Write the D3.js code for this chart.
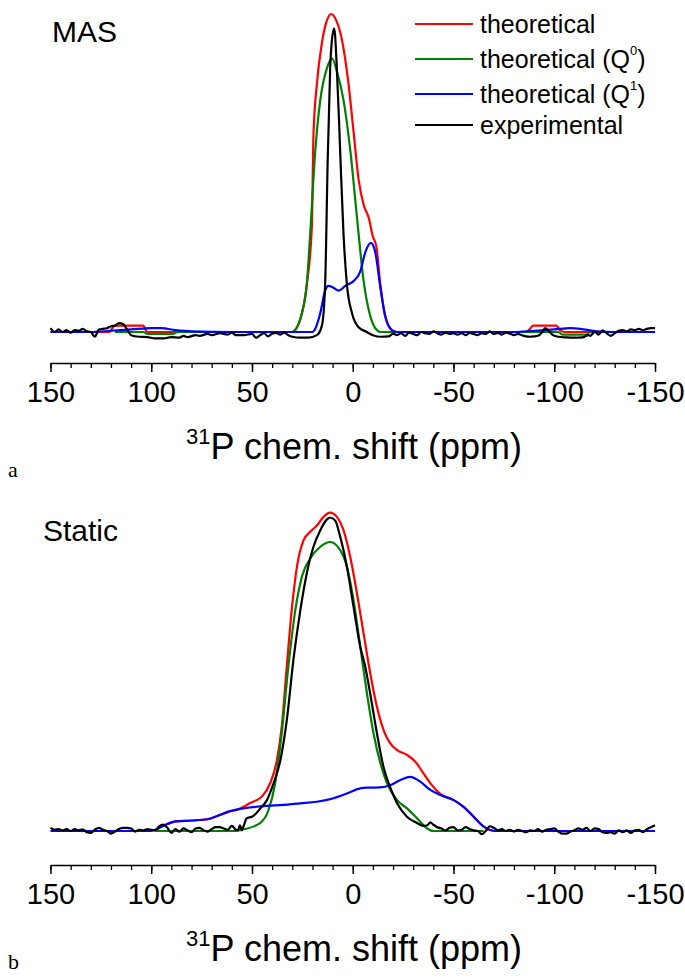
<!DOCTYPE html>
<html>
<head>
<meta charset="utf-8">
<script src="https://cdn.jsdelivr.net/npm/d3@7"></script>
<style>
    body { margin: 0; background: #fff; }
    svg { display: block; font-family: "Liberation Sans", Arial, sans-serif; }
</style>
</head>
<body>
<div id="chart"></div>
<script>
// x axis ticks (ppm), shared by both panels
const majorTicks = [150, 100, 50, 0, -50, -100, -150];
const minorTicks = d3.range(150, -151, -10);

const seriesNames = ['theoretical', 'theoretical (Q0)', 'theoretical (Q1)', 'experimental'];
const seriesColors = ['#ff0000', '#008000', '#0000ff', '#000000'];

// ---- MAS panel: [ppm, intensity] ----
const masTheory = [
    [150, 0], [121, 0], [118, 0.02], [104, 0.02], [102, 0], [30, 0], [25.2, 0.06], [22.8, 0.15],
    [20.3, 0.33], [19.5, 0.62], [17.8, 0.78], [15.3, 0.91], [12.8, 0.98], [10.7, 1.0], [8.2, 0.98],
    [5.4, 0.92], [2.1, 0.78], [-0.4, 0.63], [-2.9, 0.48], [-5.4, 0.4], [-7.9, 0.36], [-10, 0.3],
    [-11.7, 0.27], [-13.7, 0.15], [-16.1, 0.05], [-19.5, 0.006], [-22, 0], [-86, 0], [-88, 0.01],
    [-89.5, 0.02], [-101, 0.02], [-103, 0.005], [-105, 0], [-150, 0]
];
const masQ0 = [
    [118, 0], [104, 0], [102, -0.006], [89, -0.006], [87, 0], [30, 0], [29.4, 0.002], [25.2, 0.06],
    [22.8, 0.15], [21.1, 0.31], [18.6, 0.57], [16.1, 0.73], [12.8, 0.83], [10.3, 0.86], [7.9, 0.82],
    [4.6, 0.73], [1.2, 0.57], [-2.1, 0.36], [-5.4, 0.16], [-8.7, 0.05], [-12, 0.006], [-14, 0],
    [-102, 0], [-104, -0.008], [-116, -0.008], [-118, 0.002], [-120, -0.004]
];
const masQ1 = [
    [150, 0], [130, 0], [120, 0.004], [110, 0.008], [100, 0.012], [95, 0.012], [88, 0.006],
    [80, 0.002], [60, 0], [20, 0], [18.6, 0.01], [16.1, 0.06], [13.7, 0.13], [12, 0.145],
    [9.8, 0.14], [7, 0.13], [3.7, 0.145], [-0.4, 0.16], [-3.7, 0.19], [-6.2, 0.25], [-9, 0.28],
    [-11.2, 0.25], [-13.7, 0.14], [-16.1, 0.05], [-19.5, 0.005], [-22, 0], [-80, 0], [-90, 0.004],
    [-100, 0.008], [-108, 0.012], [-113, 0.01], [-120, 0.003], [-130, 0], [-150, 0]
];
const masExp = [
    [150, 0.012], [148, 0], [146, 0.008], [144, 0], [142, 0.006], [140, -0.002], [138, 0.006],
    [136, 0.004], [134, 0.01], [132, 0.002], [130, 0], [128, -0.015], [126, 0.008], [124, 0.01],
    [122, 0.012], [120, 0.018], [118, 0.02], [116, 0.028], [114, 0.025], [112, 0.008], [110, -0.01],
    [106, -0.015], [102, -0.016], [98, -0.02], [94, -0.02], [90, -0.016], [86, -0.018], [84, -0.012],
    [82, -0.016], [78, -0.01], [76, -0.012], [72, -0.006], [70, -0.01], [66, -0.004], [62, -0.008],
    [60, -0.002], [58, -0.01], [54, -0.01], [50, -0.006], [48, -0.018], [46, -0.01], [44, -0.004],
    [42, -0.014], [40, -0.005], [38, -0.003], [36, -0.008], [34, -0.002], [32, -0.01], [30, -0.015],
    [26, -0.018], [22, -0.018], [17.8, -0.01], [15.3, 0.02], [13.7, 0.15], [12.5, 0.52], [11.2, 0.83],
    [10.3, 0.92], [9.2, 0.955], [7.9, 0.83], [6.6, 0.63], [5.9, 0.51], [4.6, 0.31], [2.9, 0.15],
    [0.4, 0.06], [-2.9, 0.015], [-7, 0], [-10, -0.01], [-14, -0.015], [-18, -0.014], [-20, -0.005],
    [-22, -0.01], [-24, -0.004], [-26, -0.012], [-28, -0.002], [-30, -0.006], [-32, -0.01], [-34, 0],
    [-36, -0.004], [-38, -0.006], [-40, 0.002], [-42, -0.004], [-44, -0.008], [-46, -0.002],
    [-48, -0.006], [-50, -0.004], [-52, -0.008], [-54, -0.004], [-56, -0.01], [-58, -0.003],
    [-60, -0.006], [-62, -0.01], [-64, -0.004], [-66, -0.006], [-68, 0.002], [-70, -0.006],
    [-72, -0.003], [-74, -0.008], [-76, -0.002], [-78, -0.005], [-80, -0.01], [-82, -0.006],
    [-84, -0.01], [-86, -0.014], [-88, -0.015], [-90, -0.014], [-92, -0.012], [-94, 0], [-95.5, 0.012],
    [-97, 0.005], [-99, -0.008], [-102, -0.015], [-106, -0.017], [-110, -0.018], [-114, -0.017],
    [-117, -0.01], [-118, -0.012], [-120, 0.002], [-122, -0.008], [-124, 0.005], [-126, -0.004],
    [-128, -0.012], [-130, -0.004], [-132, 0.004], [-134, 0.006], [-136, 0.002], [-138, 0.008],
    [-140, 0.006], [-142, 0.01], [-144, 0.006], [-146, 0.01], [-148, 0.012], [-150, 0.012]
];

// ---- Static panel ----
const staticTheory = [
    [98, 0], [96, 0.01], [92, 0.022], [88, 0.03], [80, 0.033], [72, 0.037], [66, 0.05], [62, 0.06],
    [57, 0.068], [54.2, 0.076], [50.9, 0.088], [45.1, 0.108], [41, 0.15], [37.7, 0.22], [35.2, 0.33],
    [32.7, 0.52], [30.2, 0.7], [27.7, 0.83], [24.4, 0.914], [21.1, 0.94], [17.8, 0.96], [14.5, 0.987],
    [11.2, 1.0], [7.9, 0.987], [4.6, 0.945], [1.2, 0.86], [-2.1, 0.746], [-5.4, 0.62], [-8.7, 0.495],
    [-12, 0.39], [-15.3, 0.317], [-18.6, 0.275], [-22, 0.254], [-26.9, 0.239], [-31, 0.218],
    [-35.2, 0.18], [-39.3, 0.144], [-43.1, 0.118], [-50.1, 0.097], [-55, 0.076], [-60, 0.045],
    [-65, 0.014], [-68.3, 0.003], [-70, 0]
];
const staticQ0 = [
    [98, 0], [60, 0], [55.9, 0.003], [46, 0.025], [41.8, 0.066], [38.5, 0.15], [35.2, 0.31],
    [31.9, 0.52], [28.6, 0.69], [25.2, 0.8], [21.1, 0.856], [16.1, 0.893], [11.2, 0.908], [6.2, 0.882],
    [2.9, 0.83], [-0.4, 0.725], [-3.7, 0.58], [-7.1, 0.43], [-10.3, 0.307], [-13.7, 0.213],
    [-17, 0.15], [-22, 0.097], [-26.9, 0.071], [-31.9, 0.04], [-36.9, 0.008], [-40, 0], [-65, 0]
];
const staticQ1 = [
    [150, 0], [100, 0], [96, 0.01], [92, 0.022], [88, 0.03], [80, 0.033], [72, 0.037], [66, 0.05],
    [62, 0.06], [57, 0.068], [50.9, 0.074], [42.6, 0.079], [34.4, 0.082], [26.1, 0.087],
    [17.8, 0.092], [9.5, 0.103], [2.9, 0.118], [-3.7, 0.134], [-7.1, 0.136], [-13.7, 0.137],
    [-18.6, 0.144], [-23.6, 0.16], [-28.6, 0.17], [-33.5, 0.155], [-38.5, 0.129], [-43.5, 0.113],
    [-50.1, 0.097], [-55, 0.076], [-60, 0.045], [-65, 0.014], [-68.3, 0.003], [-71, 0], [-150, 0]
];
const staticExp = [
    [150, 0.01], [148, 0.004], [146, 0.006], [144, 0.002], [142, 0.006], [140, 0], [138, 0.006],
    [136, 0.002], [134, 0.005], [132, -0.004], [130, -0.006], [128, 0.004], [126, 0.01], [124, 0.004],
    [122, 0], [120, -0.008], [118, -0.002], [116, 0.006], [114, 0.01], [112, 0.01], [110, 0.008],
    [108, -0.002], [106, 0.004], [104, 0.002], [102, 0.006], [100, 0.004], [98, 0.002], [96, 0.015],
    [94, 0.02], [92, 0.01], [90, -0.006], [88, 0.006], [86, -0.002], [84, 0.008], [82, 0.002],
    [80, -0.004], [78, 0.008], [76, 0.01], [74, 0.002], [72, -0.002], [70, 0.006], [68, 0.012],
    [66, 0.012], [64, 0.008], [62, 0.004], [60, 0.016], [58, 0.004], [57, 0.002], [56, 0.018],
    [55, 0.002], [54.2, 0.015], [52.6, 0.04], [50, 0.045], [48, 0.055], [46, 0.07], [42.6, 0.097],
    [39.3, 0.15], [36, 0.22], [32.7, 0.35], [29.4, 0.54], [26.1, 0.69], [22.8, 0.81], [19.5, 0.893],
    [16.1, 0.945], [12.8, 0.979], [11.2, 0.985], [8.7, 0.975], [6.2, 0.924], [2.9, 0.83], [-0.4, 0.704],
    [-3.7, 0.58], [-6.2, 0.516], [-8.7, 0.43], [-12, 0.307], [-15.3, 0.2], [-18.6, 0.137], [-22, 0.087],
    [-26.9, 0.045], [-31.9, 0.025], [-35, 0.016], [-37, 0.018], [-38.5, 0.027], [-40, 0.02],
    [-42, 0.012], [-44, 0.008], [-46, 0.002], [-48, 0.01], [-50, 0.012], [-52, 0.002], [-54, 0.004],
    [-56, 0.012], [-58, 0.006], [-60, 0.002], [-62, 0], [-64, -0.01], [-66, 0], [-68, 0.015],
    [-70, 0.01], [-72, 0.002], [-74, 0.006], [-76, 0], [-78, 0.004], [-80, -0.002], [-82, 0.004],
    [-84, 0], [-86, -0.004], [-88, 0.002], [-90, 0], [-92, 0.006], [-94, -0.002], [-96, 0.004],
    [-98, 0.006], [-100, 0.008], [-102, -0.002], [-104, -0.008], [-106, -0.008], [-108, -0.002],
    [-110, 0.002], [-112, 0.008], [-114, 0.004], [-116, 0.01], [-118, 0], [-120, 0.008], [-122, 0.006],
    [-124, -0.004], [-126, -0.006], [-128, -0.004], [-130, -0.008], [-132, 0.002], [-134, -0.004],
    [-136, 0.002], [-138, -0.006], [-140, 0.002], [-142, 0.004], [-144, -0.004], [-146, 0.006],
    [-148, 0.012], [-150, 0.018]
];

const width = 685,
    height = 977;

const svg = d3.select('#chart')
    .append('svg')
    .attr('width', width)
    .attr('height', height);

const x = d3.scaleLinear()
    .domain([150, -150])
    .range([50.5, 655]);

function drawPanel(opts) {
    const g = svg.append('g'),
        y = d3.scaleLinear().domain([0, 1]).range([opts.base, opts.top]);

    const line = d3.line()
        .x(d => x(d[0]))
        .y(d => y(d[1]))
        .curve(d3.curveMonotoneX);

    opts.series.forEach((s, i) => {
        g.append('path')
            .datum(s)
            .attr('d', line)
            .attr('fill', 'none')
            .attr('stroke', seriesColors[i])
            .attr('stroke-width', 2.2)
            .attr('stroke-linejoin', 'round');
    });

    // minor ticks, then major ticks with labels
    g.append('g')
        .attr('transform', `translate(0, ${opts.axisY})`)
        .call(d3.axisBottom(x).tickValues(minorTicks).tickSize(5).tickFormat(''))
        .call(a => a.select('.domain').remove())
        .selectAll('line').attr('stroke-width', 1.3);

    const ax = g.append('g')
        .attr('transform', `translate(0, ${opts.axisY})`)
        .call(d3.axisBottom(x)
            .tickValues(majorTicks)
            .tickFormat(d => String(d))
            .tickSize(9)
            .tickSizeOuter(0)
            .tickPadding(9));
    ax.select('.domain').attr('stroke-width', 1.5);
    ax.selectAll('line').attr('stroke-width', 1.5);
    ax.selectAll('text')
        .attr('font-size', 29)
        .attr('font-family', '"Liberation Sans", Arial, sans-serif')
        .attr('fill', '#000');

    const title = g.append('text')
        .attr('x', 354)
        .attr('y', opts.axisY + 96)
        .attr('text-anchor', 'middle')
        .attr('font-size', 36);
    title.append('tspan').attr('font-size', 22).attr('dy', -15).text('31');
    title.append('tspan').attr('dy', 15).text('P chem. shift (ppm)');

    g.append('text')
        .attr('x', opts.nameX)
        .attr('y', opts.top + 28)
        .attr('font-size', 30)
        .text(opts.name);

    g.append('text')
        .attr('x', 8)
        .attr('y', opts.letterY)
        .attr('font-family', '"Liberation Serif", "Times New Roman", serif')
        .attr('font-size', 22)
        .text(opts.letter);

    return g;
}

const masPanel = drawPanel({
    base: 332, top: 14, axisY: 363, name: 'MAS', nameX: 52, letter: 'a', letterY: 477,
    series: [masTheory, masQ0, masQ1, masExp]
});

drawPanel({
    base: 831, top: 512.7, axisY: 865, name: 'Static', nameX: 43, letter: 'b', letterY: 969,
    series: [staticTheory, staticQ0, staticQ1, staticExp]
});

// legend (MAS panel only)
const legendY = [24, 59, 94, 125];
const legend = masPanel.append('g');
seriesNames.forEach((name, i) => {
    legend.append('line')
        .attr('x1', 415).attr('x2', 473)
        .attr('y1', legendY[i]).attr('y2', legendY[i])
        .attr('stroke', seriesColors[i])
        .attr('stroke-width', 2);
    const t = legend.append('text')
        .attr('x', 480)
        .attr('y', legendY[i] + 9)
        .attr('font-size', 25);
    const m = name.match(/^(.*\(Q)(\d)\)$/);
    if (m) {
        t.append('tspan').text(m[1]);
        t.append('tspan').attr('font-size', 13).attr('dy', -13).text(m[2]);
        t.append('tspan').attr('dy', 13).text(')');
    } else {
        t.text(name);
    }
});
</script>
</body>
</html>
